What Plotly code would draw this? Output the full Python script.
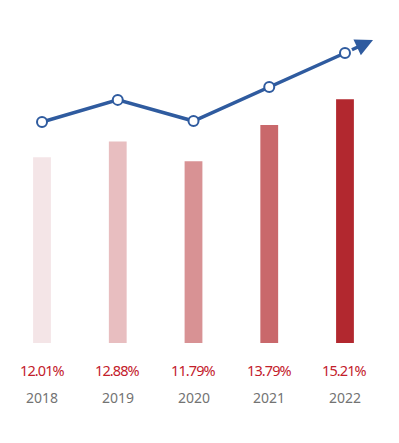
import plotly.graph_objects as go

years = ["2018", "2019", "2020", "2021", "2022"]
ratio = [12.01, 12.88, 11.79, 13.79, 15.21]
ratio_labels = ["12.01%", "12.88%", "11.79%", "13.79%", "15.21%"]
trend = [13.96, 15.18, 14.01, 15.89, 17.77]
trend_arrow_end = (4.37, 18.49)
bar_colors = ["#f4e5e7", "#e8bec0", "#d89294", "#c9686b", "#b2282f"]

xs = list(range(len(years)))

fig = go.Figure()
fig.add_trace(go.Bar(x=xs, y=ratio, width=0.235, marker=dict(color=bar_colors, line=dict(width=0)),
                     hoverinfo="skip", showlegend=False))
fig.add_trace(go.Scatter(x=xs, y=trend, mode="lines+markers",
                         line=dict(color="#2f5b9f", width=3.5),
                         marker=dict(size=10, color="white", line=dict(color="#2f5b9f", width=2)),
                         showlegend=False, hoverinfo="skip"))

fig.add_annotation(x=trend_arrow_end[0], y=trend_arrow_end[1], ax=xs[-1], ay=trend[-1],
                   xref="x", yref="y", axref="x", ayref="y", text="", showarrow=True,
                   arrowhead=2, arrowsize=1.0, arrowwidth=3.5, arrowcolor="#2f5b9f", standoff=0, startstandoff=6)

for i in xs:
    fig.add_annotation(x=i, y=0, xref="x", yref="paper", yanchor="middle", yshift=-27,
                       text="<span style='letter-spacing:-0.9px'>" + ratio_labels[i] + "</span>", showarrow=False,
                       font=dict(family="Noto Sans", size=14.5, color="#c3202b"))
    fig.add_annotation(x=i, y=0, xref="x", yref="paper", yanchor="middle", yshift=-54,
                       text=years[i], showarrow=False,
                       font=dict(family="Noto Sans", size=14, color="#737373"))

fig.update_layout(
    width=391, height=435,
    margin=dict(l=0, r=0, t=22, b=100),
    plot_bgcolor="white", paper_bgcolor="white",
    xaxis=dict(range=[-0.449, 4.713], visible=False),
    yaxis=dict(range=[1.75, 19.04], visible=False),
)
fig.write_html("out.html")
